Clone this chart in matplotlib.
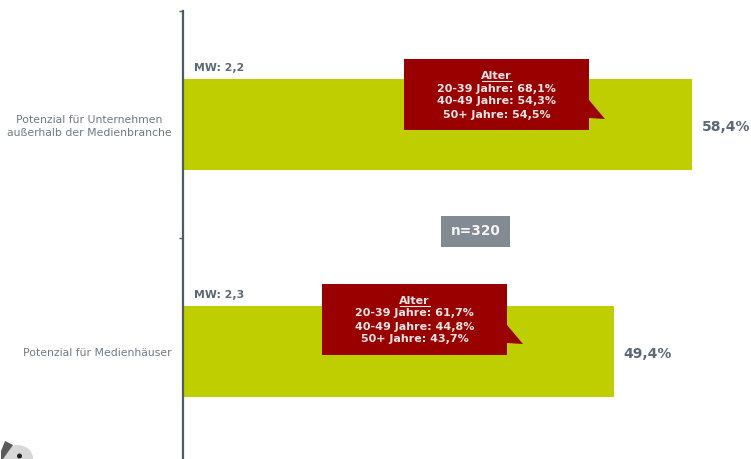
import matplotlib
matplotlib.use("Agg")
import matplotlib.pyplot as plt
from matplotlib.patches import Polygon, Rectangle, Ellipse
from matplotlib.transforms import Affine2D

# data
categories = ["Potenzial für Unternehmen\naußerhalb der Medienbranche", "Potenzial für Medienhäuser"]
values = [58.4, 49.4]
value_labels = ["58,4%", "49,4%"]
mw_labels = ["MW: 2,2", "MW: 2,3"]
alter_labels = [
    ["20-39 Jahre: 68,1%", "40-49 Jahre: 54,3%", "50+ Jahre: 54,5%"],
    ["20-39 Jahre: 61,7%", "40-49 Jahre: 44,8%", "50+ Jahre: 43,7%"],
]

W, H = 751, 459
GREEN = "#bfce00"
RED = "#990000"
SLATE = "#4f5b6b"
GREY = "#6f7a86"

fig = plt.figure(figsize=(W / 100, H / 100), dpi=100)
ax = fig.add_axes([183 / W, (H - 465.2) / H, (W - 183) / W, 454 / H])
ax.patch.set_alpha(0)

ax.barh(range(2), values, height=0.4, color=GREEN, zorder=2)
ax.set_xlim(0, 65.17)
ax.set_ylim(1.5, -0.5)

for s in ["top", "right", "bottom"]:
    ax.spines[s].set_visible(False)
ax.spines["left"].set_color(SLATE)
ax.spines["left"].set_linewidth(1.6)
ax.spines["left"].set_zorder(3)
ax.set_xticks([])
ax.set_yticks([-0.5, 0.5])
ax.set_yticklabels([])
ax.tick_params(axis="y", length=3, width=1, color=SLATE)

# pixel coordinates, origin top left
px = Affine2D().scale(1, -1).translate(0, H)

label_y = [126.5, 353]
for i, cat in enumerate(categories):
    fig.text(172 / W, 1 - label_y[i] / H, cat, ha="right", va="center", fontsize=7.8,
             color=GREY, linespacing=1.4, multialignment="center")
    ax.annotate(value_labels[i], (values[i], i), xytext=(10, -2.5), textcoords="offset pixels",
                ha="left", va="center", fontsize=10, fontweight="bold", color="#5c6875")
    ax.annotate(mw_labels[i], (0, i - 0.2), xytext=(11, 6.5), textcoords="offset pixels",
                ha="left", va="bottom", fontsize=7.8, fontweight="bold", color="#5c6875")

# callouts
boxes = [(404, 59, 589, 130), (322, 284, 507, 355)]
for i, (x0, y0, x1, y1) in enumerate(boxes):
    box = Polygon([(x0, y0), (x1, y0), (x1, y0 + 41), (x1 + 16, y0 + 60), (x1, y0 + 59),
                   (x1, y1), (x0, y1)], closed=True, facecolor=RED, edgecolor="none",
                  transform=px, zorder=4)
    fig.add_artist(box)
    cx = (x0 + x1) / 2
    fig.text(cx / W, 1 - (y0 + 17) / H, "Alter", ha="center", va="center", fontsize=8,
             fontweight="bold", color="#f2e6e6", zorder=5)
    fig.add_artist(plt.Line2D([cx - 15, cx + 15], [y0 + 22, y0 + 22], color="#f2e6e6", lw=0.8,
                              transform=px, zorder=5))
    for j, line in enumerate(alter_labels[i]):
        fig.text(cx / W, 1 - (y0 + 29.5 + 13 * j) / H, line, ha="center", va="center", fontsize=8.05,
                 fontweight="bold", color="#f2e6e6", zorder=5)

# n box
fig.add_artist(Rectangle((441, 216), 69, 31, facecolor="#828a94", edgecolor="none", transform=px, zorder=4))
fig.text(475.5 / W, 1 - 231.5 / H, "n=320", ha="center", va="center", fontsize=9.8,
         fontweight="bold", color="#f5f5f5", zorder=5)

# bit of the mascot at the bottom edge
fig.add_artist(Ellipse((17, 458), 32, 26, facecolor="#d8d8d8", edgecolor="none", transform=px))
fig.add_artist(Polygon([(1, 451), (5, 441), (13, 445), (8, 452), (3, 459), (1, 459)], closed=True,
                       facecolor="#5a5a5a", edgecolor="none", transform=px))
fig.add_artist(Ellipse((19.5, 456), 5, 5, facecolor="#222222", edgecolor="none", transform=px))

fig.savefig("out.png", dpi=100)
